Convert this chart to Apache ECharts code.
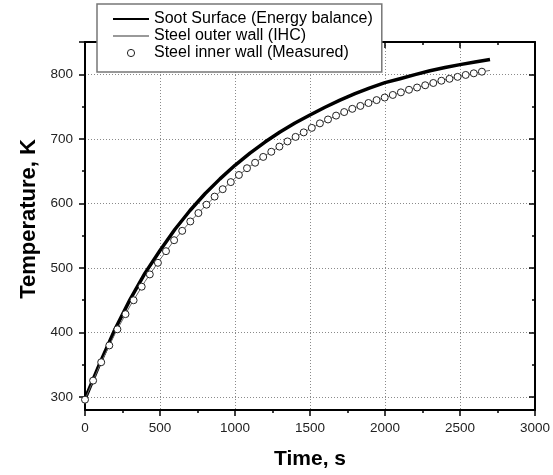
<!DOCTYPE html>
<html><head><meta charset="utf-8">
<script src="https://cdn.jsdelivr.net/npm/echarts@6/dist/echarts.min.js"></script>
<style>html,body{margin:0;padding:0;background:#fff}#c{width:553px;height:475px}</style>
</head><body><div id="c"></div>
<script>
// ---- data ----
const seriesNames = ['Soot Surface (Energy balance)', 'Steel outer wall (IHC)', 'Steel inner wall (Measured)'];
const sootTime = [0,100,200,300,400,500,600,700,800,900,1000,1100,1200,1300,1400,1500,1600,1700,1800,1900,2000,2100,2200,2300,2400,2500,2600,2700];
const sootTemp = [297,353,405,451,492,527,560,589,615,638,659,678,695,710.5,724.5,737,749,760,770,779,787,793,799.5,805.5,810.5,815,819,823];
const ihcTime = [0,100,200,300,400,500,600,700,800,900,1000,1100,1200,1300,1400,1500,1600,1700,1800,1900,2000,2100,2200,2300,2400,2500,2600,2700];
const ihcTemp = [296,350,398,441,479,513,544.5,571.5,595.5,618,639,657.5,674,688.5,702.5,715.5,727.5,738.5,748.5,756.5,764,771.5,778.5,785,791.5,797,802,806];
const measTime = [0,54,108,162,216,270,324,378,432,486,540,594,648,702,756,810,864,918,972,1026,1080,1134,1188,1242,1296,1350,1404,1458,1512,1566,1620,1674,1728,1782,1836,1890,1944,1998,2052,2106,2160,2214,2268,2322,2376,2430,2484,2538,2592,2646];
const measTemp = [296,325.5,354,380,405,428.5,450,471,490,508,526,543,557.5,572,585,598,610.5,622,633,644,654.5,663,672,680,688,696,703,710,717,724,730,736,741.5,746.5,751,755.5,760,764,768,772,776,779.5,783,786.5,790,793,796,799,801.5,804];
const xTicks = [0,500,1000,1500,2000,2500,3000];
const yTicks = [300,400,500,600,700,800];
const yRange = [280, 850];

const FONT = 'Liberation Sans, Arial, sans-serif';
const pair = (xs, ys) => xs.map((x, i) => [x, ys[i]]);

const axisLine = {show: true, onZero: false, lineStyle: {color: '#000', width: 2}};
const tickStyle = {color: '#000', width: 1.5};
const grid = {type: [1, 2], color: '#8a8a8a', width: 1};

const chart = echarts.init(document.getElementById('c'), null, {renderer: 'canvas'});
chart.setOption({
  animation: false,
  backgroundColor: '#fff',
  grid: {left: 85, right: 15, top: 42, bottom: 63},
  legend: {
    orient: 'vertical', left: 97, top: 4,
    padding: [7, 9, 11, 15],
    itemWidth: 36, itemHeight: 9, itemGap: 1,
    borderColor: '#777', borderWidth: 1.5, backgroundColor: '#fff',
    textStyle: {fontFamily: FONT, fontSize: 16, color: '#000', lineHeight: 15},
    data: [
      {name: seriesNames[0], itemStyle: {opacity: 0}},
      {name: seriesNames[1], itemStyle: {opacity: 0}, lineStyle: {color: '#777', width: 1.5}},
      {name: seriesNames[2], itemStyle: {color: '#fff', borderColor: '#222', borderWidth: 1}}
    ]
  },
  xAxis: [{
    type: 'value', position: 'bottom',
    min: xTicks[0], max: xTicks[xTicks.length - 1], interval: xTicks[1] - xTicks[0],
    axisLine: axisLine,
    axisTick: {show: true, inside: false, length: 6, lineStyle: tickStyle},
    minorTick: {show: true, splitNumber: 2, length: 3, lineStyle: tickStyle},
    axisLabel: {margin: 11, fontFamily: FONT, fontSize: 13.5, color: '#222', formatter: v => String(v)},
    splitLine: {show: true, lineStyle: grid},
    name: 'Time, s', nameLocation: 'middle', nameGap: 39,
    nameTextStyle: {fontFamily: FONT, fontWeight: 'bold', fontSize: 21, color: '#000'}
  }, {
    type: 'value', position: 'top',
    min: xTicks[0], max: xTicks[xTicks.length - 1], interval: xTicks[1] - xTicks[0],
    axisLine: axisLine,
    axisTick: {show: true, inside: true, length: 6, lineStyle: tickStyle},
    minorTick: {show: true, splitNumber: 2, length: 3, lineStyle: tickStyle},
    axisLabel: {show: false}, splitLine: {show: false}
  }],
  yAxis: [{
    type: 'value', position: 'left',
    min: yRange[0], max: yRange[1], minInterval: yTicks[1] - yTicks[0], maxInterval: yTicks[1] - yTicks[0],
    axisLine: axisLine,
    axisTick: {show: true, inside: false, length: 6, lineStyle: tickStyle, customValues: yTicks.concat([yRange[1]])},
    minorTick: {show: true, splitNumber: 2, length: 3, lineStyle: tickStyle},
    axisLabel: {margin: 12, fontFamily: FONT, fontSize: 13.5, color: '#222', customValues: yTicks,
      formatter: v => String(v)},
    splitLine: {show: true, lineStyle: grid},
    name: 'Temperature, K', nameLocation: 'middle', nameGap: 44,
    nameTextStyle: {fontFamily: FONT, fontWeight: 'bold', fontSize: 22, color: '#000', padding: [0, 0, 0, 14]}
  }, {
    type: 'value', position: 'right',
    min: yRange[0], max: yRange[1], minInterval: yTicks[1] - yTicks[0], maxInterval: yTicks[1] - yTicks[0],
    axisLine: axisLine,
    axisTick: {show: true, inside: true, length: 6, lineStyle: tickStyle, customValues: yTicks},
    minorTick: {show: true, splitNumber: 2, length: 3, lineStyle: tickStyle},
    axisLabel: {show: false}, splitLine: {show: false}
  }],
  series: [{
    type: 'line', name: seriesNames[0], data: pair(sootTime, sootTemp),
    symbol: 'none', smooth: false,
    lineStyle: {color: '#000', width: 3.5, join: 'round'}, itemStyle: {color: '#000'}, z: 3
  }, {
    type: 'line', name: seriesNames[1], data: pair(ihcTime, ihcTemp),
    symbol: 'none', smooth: false,
    lineStyle: {color: '#666', width: 1}, itemStyle: {color: '#666'}, z: 4
  }, {
    type: 'line', name: seriesNames[2], data: pair(measTime, measTemp),
    symbol: 'circle', symbolSize: 7, showSymbol: true, showAllSymbol: true,
    lineStyle: {width: 0, opacity: 0},
    itemStyle: {color: '#fff', borderColor: '#222', borderWidth: 1}, z: 5
  }]
});
</script>
</body></html>
